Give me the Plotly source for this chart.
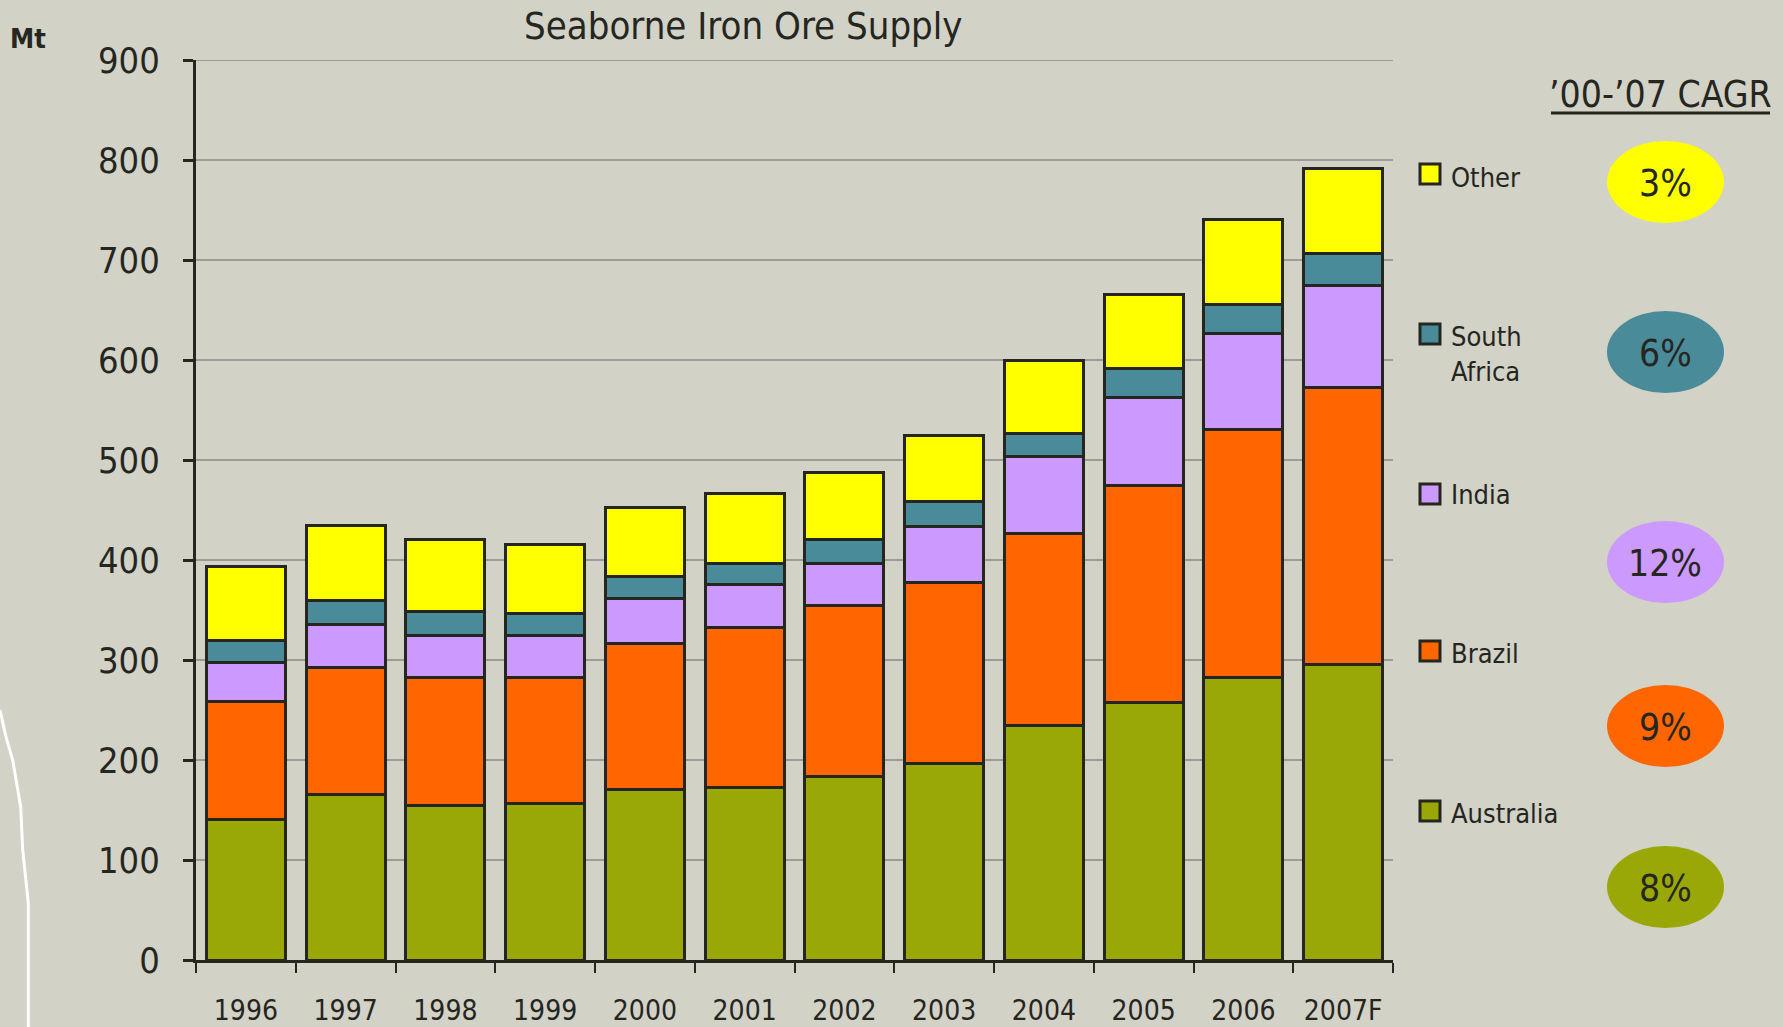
import plotly.graph_objects as go

# ---------------- data ----------------
years = ["1996", "1997", "1998", "1999", "2000", "2001", "2002", "2003", "2004", "2005", "2006", "2007F"]
australia = [141, 166, 155, 157, 171, 173, 184, 197, 235, 258, 283, 296]
brazil = [118, 127, 128, 126, 146, 160, 171, 181, 192, 217, 248, 277]
india = [39, 43, 42, 42, 45, 43, 42, 56, 77, 88, 96, 102]
south_africa = [22, 24, 24, 22, 22, 21, 24, 25, 23, 29, 29, 32]
other = [74, 75, 72, 69, 69, 70, 67, 66, 73, 74, 85, 85]

series_names = ["Australia", "Brazil", "India", "South Africa", "Other"]
series_values = [australia, brazil, india, south_africa, other]
series_colors = ["#99A806", "#FF6600", "#CC99FF", "#4A8B9A", "#FFFF00"]
legend_labels = ["Australia", "Brazil", "India", "South<br>Africa", "Other"]
cagr_labels = ["8%", "9%", "12%", "6%", "3%"]

y_ticks = [0, 100, 200, 300, 400, 500, 600, 700, 800, 900]

title_text = "Seaborne Iron Ore Supply"
unit_text = "Mt"
cagr_header = "\u201900-\u201907 CAGR"

# ---------------- layout geometry ----------------
W, H = 1783, 1027
L, R, T, B = 196, 390, 60, 67
PW = W - L - R
PH = H - T - B

BG = "#D2D2C6"
DARK = "#25261F"
GRID = "#9B9B97"
FONT = "Liberation Sans Narrow, Arial Narrow, DejaVu Sans Condensed, sans-serif"


def px(x):
    return (x - L) / PW


def py(y):
    return (H - B - y) / PH


fig = go.Figure()
for name, vals, col in zip(series_names, series_values, series_colors):
    fig.add_trace(go.Bar(
        x=years, y=vals, name=name,
        marker=dict(color=col, line=dict(color=DARK, width=3)),
        showlegend=False,
    ))

shapes = []
annotations = []

# top gridline (at the range edge, plotly skips it)
shapes.append(dict(type="line", xref="paper", yref="y", x0=0, x1=1, y0=y_ticks[-1], y1=y_ticks[-1],
                   line=dict(color=GRID, width=2), layer="below"))

# left white curve (background decoration)
curve = [(0, 710), (6, 737), (12.7, 760), (20.7, 807), (22.7, 850), (28.3, 903), (28.3, 1027)]
path = "M " + " L ".join(f"{px(a):.5f},{py(b):.5f}" for a, b in curve)
shapes.append(dict(type="path", xref="paper", yref="paper", path=path,
                   line=dict(color="white", width=3)))

# title and unit
annotations.append(dict(text=title_text, xref="paper", yref="paper", x=px(743), y=py(26),
                        xanchor="center", yanchor="middle", showarrow=False,
                        font=dict(family=FONT, size=38, color=DARK)))
annotations.append(dict(text=f"<b>{unit_text}</b>", xref="paper", yref="paper", x=px(28), y=py(39),
                        xanchor="center", yanchor="middle", showarrow=False,
                        font=dict(family=FONT, size=27, color=DARK)))

# CAGR header with underline
annotations.append(dict(text=cagr_header, xref="paper", yref="paper", x=px(1660), y=py(95),
                        xanchor="center", yanchor="middle", showarrow=False,
                        font=dict(family=FONT, size=37, color=DARK)))
shapes.append(dict(type="line", xref="paper", yref="paper", x0=px(1551), x1=px(1770),
                   y0=py(113), y1=py(113), line=dict(color=DARK, width=3)))

# custom legend + CAGR ellipses
legend_sq_y = {"Other": 174, "South Africa": 334, "India": 494, "Brazil": 651, "Australia": 811}
legend_txt_y = {"Other": 177, "South Africa": 354, "India": 495, "Brazil": 653, "Australia": 813}
ellipse_y = {"Other": 182, "South Africa": 352, "India": 562, "Brazil": 726, "Australia": 887}

for name, lab, col, cg in zip(series_names, legend_labels, series_colors, cagr_labels):
    cy = legend_sq_y[name]
    shapes.append(dict(type="rect", xref="paper", yref="paper",
                       x0=px(1420), x1=px(1440), y0=py(cy - 10), y1=py(cy + 10),
                       fillcolor=col, line=dict(color=DARK, width=3)))
    annotations.append(dict(text=lab, xref="paper", yref="paper", x=px(1449), y=py(legend_txt_y[name]),
                            xanchor="left", yanchor="middle", align="left", showarrow=False,
                            font=dict(family=FONT, size=27, color=DARK)))
    ey = ellipse_y[name]
    shapes.append(dict(type="circle", xref="paper", yref="paper",
                       x0=px(1607), x1=px(1724), y0=py(ey - 41), y1=py(ey + 41),
                       fillcolor=col, line=dict(width=0)))
    annotations.append(dict(text=cg, xref="paper", yref="paper", x=px(1665.5), y=py(ey + 1),
                            xanchor="center", yanchor="middle", showarrow=False,
                            font=dict(family=FONT, size=37, color=DARK)))

fig.update_layout(
    width=W, height=H,
    margin=dict(l=L, r=R, t=T, b=B, autoexpand=False),
    paper_bgcolor=BG, plot_bgcolor=BG,
    barmode="stack", bargap=0.21,
    shapes=shapes, annotations=annotations,
    font=dict(family=FONT, color=DARK),
)
fig.update_xaxes(
    type="category", range=[-0.5, len(years) - 0.5],
    showline=True, linecolor=DARK, linewidth=3,
    ticks="outside", tickson="boundaries", ticklen=10, tickwidth=2, tickcolor=DARK,
    tickfont=dict(family=FONT, size=28, color=DARK), ticklabelstandoff=23,
    showgrid=False, zeroline=False,
)
fig.update_yaxes(
    range=[0, 900], tickvals=y_ticks, ticktext=[str(v) for v in y_ticks],
    showline=True, linecolor=DARK, linewidth=3,
    ticks="outside", ticklen=10, tickwidth=3, tickcolor=DARK,
    tickfont=dict(family=FONT, size=36, color=DARK), ticklabelstandoff=16,
    showgrid=True, gridcolor=GRID, gridwidth=2, zeroline=False,
)

fig.write_html("out.html", config={"displayModeBar": False},
               post_script="document.body.style.margin='0';document.body.style.padding='0';document.body.style.overflow='hidden';")
